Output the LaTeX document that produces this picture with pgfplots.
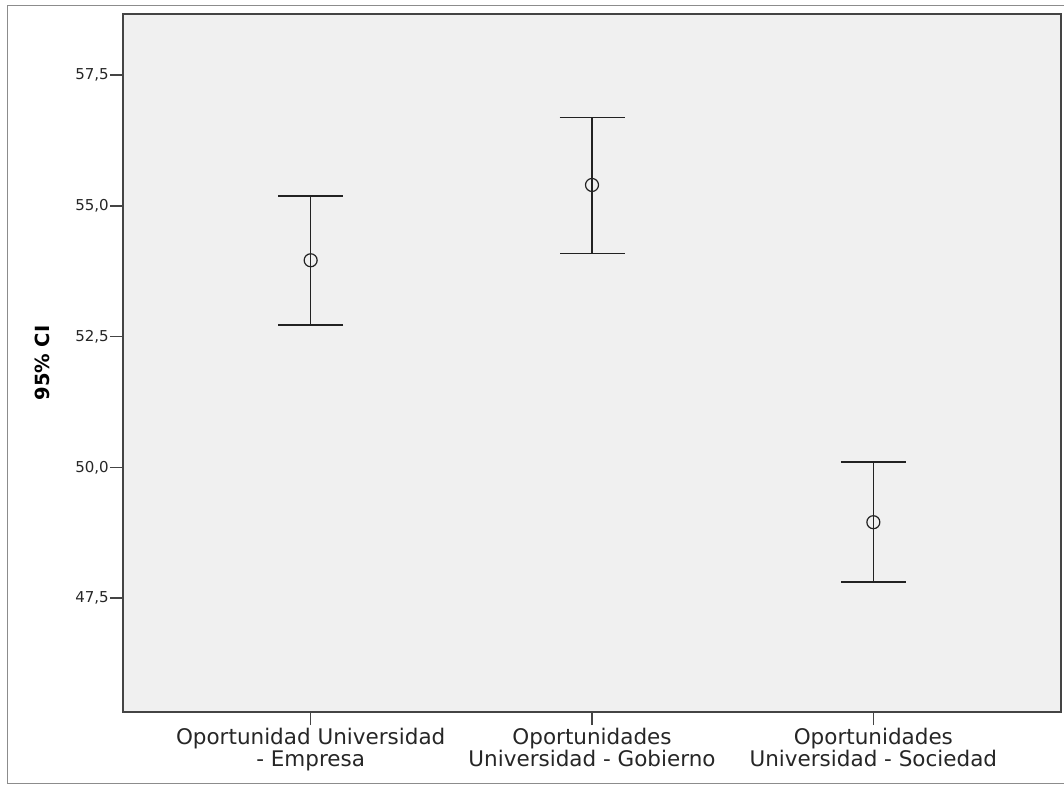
\documentclass[border=0pt]{standalone}
\usepackage{pgfplots}
\pgfplotsset{compat=1.18}
\usepackage{fontspec}
\setmainfont{DejaVu Sans}
\definecolor{bg}{HTML}{F0F0F0}
\definecolor{axc}{HTML}{444444}
\definecolor{bar}{HTML}{222222}
\begin{document}
\begin{tikzpicture}
\useasboundingbox (-123pt,-73pt) rectangle (941pt,712pt);
\draw[color=black!45, line width=1pt] (-115pt,-71pt) rectangle (945pt,706pt);
\begin{axis}[
  at={(0pt,0pt)}, anchor=south west,
  scale only axis, width=938pt, height=698pt,
  xmin=-0.667, xmax=2.667, ymin=45.32, ymax=58.67,
  axis background/.style={fill=bg},
  axis line style={axc, line width=1.6pt},
  xtick={0,1,2},
  xticklabels={{Oportunidad Universidad\\- Empresa},{Oportunidades\\Universidad - Gobierno},{Oportunidades\\Universidad - Sociedad}},
  xticklabel style={align=center, font=\fontsize{21.5}{22}\selectfont, text=black!85, inner sep=3pt},
  ytick={47.5,50,52.5,55,57.5},
  yticklabel style={font=\fontsize{15}{16}\selectfont, text=black!85, inner sep=1pt},
  tick align=outside, tick pos=left, major tick length=13pt,
  tick style={axc, line width=1.4pt},
  ylabel={\bfseries 95\% CI},
  every axis y label/.style={at={(axis description cs:-0.0864,0.5)}, rotate=90, anchor=center, font=\fontsize{19.5}{22}\selectfont},
  /pgf/number format/use comma,
  /pgf/number format/fixed,
  /pgf/number format/fixed zerofill,
  /pgf/number format/precision=1,
  /pgf/number format/assume math mode=true,
]
\addplot[
  only marks, mark=o, mark size=6.5pt,
  mark options={draw=bar, fill=bg, line width=1.2pt},
  error bars/.cd, y dir=both, y explicit,
  error bar style={line width=1.6pt, bar},
  error mark options={rotate=90, line width=1.6pt, bar, mark size=32.5pt},
] table[x=x, y=y, y error plus=ep, y error minus=em] {
x y ep em
0 53.96 1.23 1.24
1 55.40 1.29 1.31
2 48.95 1.15 1.14
};
\end{axis}
\end{tikzpicture}
\end{document}
